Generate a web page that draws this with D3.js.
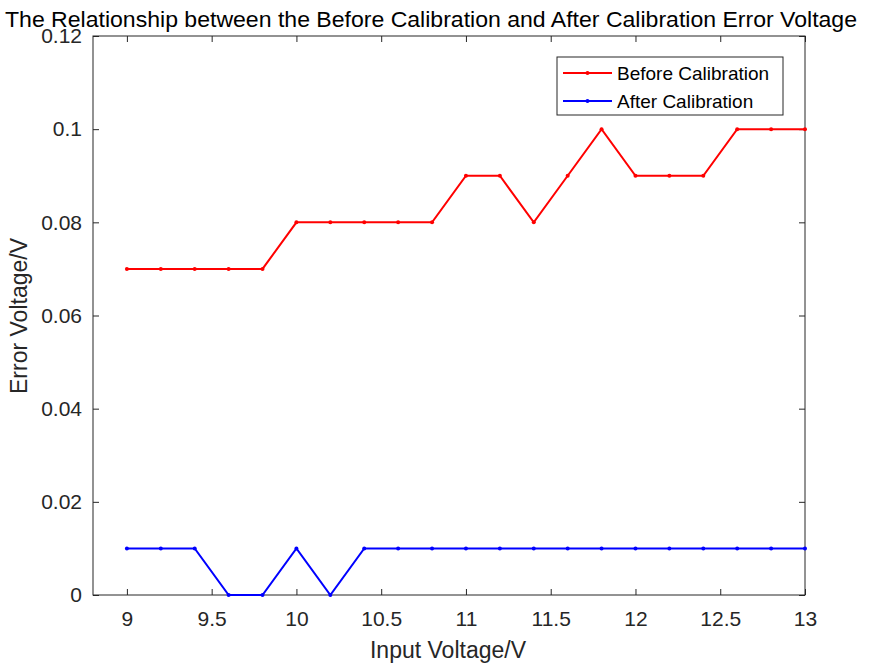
<!DOCTYPE html>
<html><head><meta charset="utf-8">
<script src="https://cdn.jsdelivr.net/npm/d3@7"></script>
<style>body{margin:0;background:#fff}svg{display:block}text{font-family:"Liberation Sans",Arial,sans-serif}</style>
</head><body>
<svg id="c" width="890" height="666"></svg>
<script>
const xValues = [9,9.2,9.4,9.6,9.8,10,10.2,10.4,10.6,10.8,11,11.2,11.4,11.6,11.8,12,12.2,12.4,12.6,12.8,13];
const beforeCal = [0.07,0.07,0.07,0.07,0.07,0.08,0.08,0.08,0.08,0.08,0.09,0.09,0.08,0.09,0.10,0.09,0.09,0.09,0.10,0.10,0.10];
const afterCal  = [0.01,0.01,0.01,0,0,0.01,0,0.01,0.01,0.01,0.01,0.01,0.01,0.01,0.01,0.01,0.01,0.01,0.01,0.01,0.01];
const xTicks = [9,9.5,10,10.5,11,11.5,12,12.5,13];
const yTicks = [0,0.02,0.04,0.06,0.08,0.1,0.12];
const seriesNames = ["Before Calibration","After Calibration"];
const seriesColors = ["#ff0000","#0000ff"];

const svg = d3.select("#c");
const L=93, R=805, T=36, B=595;
const x = d3.scaleLinear().domain([8.8,13]).range([L,R]);
const y = d3.scaleLinear().domain([0,0.12]).range([B,T]);
const axisColor="#262626";

const g = svg.append("g");
g.append("rect").attr("x",L).attr("y",T).attr("width",R-L).attr("height",B-T).attr("fill","#fff");

function styleAxis(sel){sel.select(".domain").remove();sel.selectAll("line").attr("stroke",axisColor);sel.selectAll("text").attr("fill",axisColor).style("font-size","21px");}
const fmtY = d=> d===0?"0":d3.format(".2f")(d).replace(/0$/,"");
g.append("g").attr("transform",`translate(0,${B})`).call(d3.axisBottom(x).tickValues(xTicks).tickSize(-6).tickPadding(16).tickFormat(d=>String(d))).call(styleAxis);
g.append("g").attr("transform",`translate(0,${T})`).call(d3.axisTop(x).tickValues(xTicks).tickSize(-6).tickFormat("")).call(styleAxis);
g.append("g").attr("transform",`translate(${L},0)`).call(d3.axisLeft(y).tickValues(yTicks).tickSize(-6).tickPadding(11).tickFormat(fmtY)).call(styleAxis);
g.append("g").attr("transform",`translate(${R},0)`).call(d3.axisRight(y).tickValues(yTicks).tickSize(-6).tickFormat("")).call(styleAxis);
g.append("rect").attr("x",L).attr("y",T).attr("width",R-L).attr("height",B-T).attr("fill","none").attr("stroke",axisColor).attr("stroke-width",1);

const series=[beforeCal,afterCal];
const line=d3.line().x((d,i)=>x(xValues[i])).y(d=>y(d));
series.forEach((s,k)=>{
  g.append("path").datum(s).attr("d",line).attr("fill","none").attr("stroke",seriesColors[k]).attr("stroke-width",2);
  g.selectAll(null).data(s).enter().append("circle").attr("cx",(d,i)=>x(xValues[i])).attr("cy",d=>y(d)).attr("r",2).attr("fill",seriesColors[k]);
});

// legend
const lg=g.append("g");
lg.append("rect").attr("x",557).attr("y",57).attr("width",226).attr("height",58).attr("fill","#fff").attr("stroke",axisColor);
seriesNames.forEach((n,k)=>{
  const yy=73+k*28;
  lg.append("line").attr("x1",563).attr("x2",612).attr("y1",yy).attr("y2",yy).attr("stroke",seriesColors[k]).attr("stroke-width",2);
  lg.append("circle").attr("cx",587.5).attr("cy",yy).attr("r",2).attr("fill",seriesColors[k]);
  lg.append("text").attr("x",617).attr("y",yy+7).text(n).style("font-size","19px").attr("fill","#000");
});

svg.append("text").attr("x",431).attr("y",27).attr("text-anchor","middle").text("The Relationship between the Before Calibration and After Calibration Error Voltage").style("font-size","22px").attr("textLength",852).attr("lengthAdjust","spacingAndGlyphs").attr("fill","#000");
svg.append("text").attr("x",448).attr("y",658).attr("text-anchor","middle").text("Input Voltage/V").style("font-size","23px").attr("fill",axisColor);
svg.append("text").attr("transform","translate(27,316) rotate(-90)").attr("text-anchor","middle").text("Error Voltage/V").style("font-size","23px").attr("fill",axisColor);
</script>
</body></html>
